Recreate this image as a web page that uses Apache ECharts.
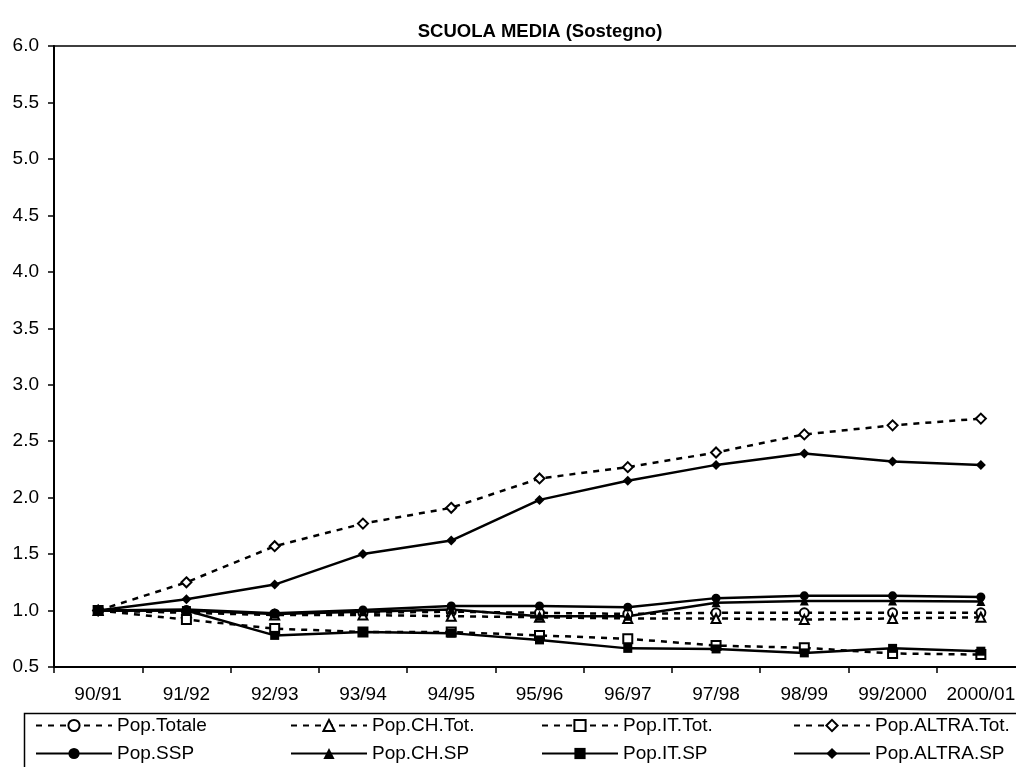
<!DOCTYPE html>
<html>
<head>
<meta charset="utf-8">
<script src="https://cdn.jsdelivr.net/npm/echarts@6/dist/echarts.min.js"></script>
<style>
  html, body { margin: 0; padding: 0; background: #fff; }
  #chart { width: 1016px; height: 767px; }
</style>
</head>
<body>
<div id="chart"></div>
<script>
// anni scolastici
var years = ["90/91", "91/92", "92/93", "93/94", "94/95", "95/96", "96/97", "97/98", "98/99", "99/2000", "2000/01"];

// popolazione totale (tratteggiate)
var popTotale = [1.0, 0.99, 0.97, 0.98, 0.99, 0.98, 0.97, 0.98, 0.98, 0.98, 0.98];
var popCHTot = [1.0, 0.98, 0.96, 0.96, 0.95, 0.94, 0.93, 0.93, 0.92, 0.93, 0.94];
var popITTot = [1.0, 0.92, 0.84, 0.81, 0.81, 0.78, 0.75, 0.69, 0.67, 0.62, 0.61];
var popALTRATot = [1.0, 1.25, 1.57, 1.77, 1.91, 2.17, 2.27, 2.40, 2.56, 2.64, 2.70];

// popolazione SP (continue)
var popSSP = [1.0, 1.01, 0.975, 1.005, 1.04, 1.04, 1.03, 1.11, 1.13, 1.13, 1.12];
var popCHSP = [1.0, 1.0, 0.97, 0.99, 1.01, 0.95, 0.95, 1.07, 1.085, 1.085, 1.08];
var popITSP = [1.0, 1.0, 0.78, 0.81, 0.80, 0.74, 0.665, 0.66, 0.625, 0.665, 0.64];
var popALTRASP = [1.0, 1.10, 1.23, 1.50, 1.62, 1.98, 2.15, 2.29, 2.39, 2.32, 2.29];

var yTicks = { min: 0.5, max: 6.0, step: 0.5 };

function serie(name, data, dashed, symbol, filled) {
  return {
    name: name,
    type: "line",
    data: data,
    symbol: symbol,
    symbolSize: symbol === "diamond" ? 10 : 9,
    showSymbol: true,
    animation: false,
    lineStyle: { color: "#000", width: 2.5, type: dashed ? [6, 6] : "solid" },
    itemStyle: {
      color: filled ? "#000" : "#fff",
      borderColor: "#000",
      borderWidth: filled ? 0 : 2
    }
  };
}

function colLegend(left, names) {
  return {
    data: names,
    orient: "vertical",
    left: left,
    top: 716,
    height: 60,
    padding: 0,
    itemWidth: 76,
    itemHeight: 14,
    itemGap: 9,
    selectedMode: false,
    textStyle: { fontSize: 19, color: "#000", fontFamily: "Liberation Sans" }
  };
}

var chart = echarts.init(document.getElementById("chart"));
chart.setOption({
  backgroundColor: "#fff",
  textStyle: { fontFamily: "Liberation Sans" },
  title: {
    text: "SCUOLA MEDIA (Sostegno)",
    left: 535,
    textAlign: "center",
    top: 17,
    textStyle: { fontSize: 18.5, fontWeight: "bold", color: "#000", fontFamily: "Liberation Sans" }
  },
  grid: {
    left: 54,
    top: 46,
    width: 971,
    height: 621,
    show: true,
    borderColor: "#000",
    borderWidth: 1.5,
    containLabel: false,
    outerBoundsMode: "none"
  },
  xAxis: {
    type: "category",
    data: years,
    boundaryGap: true,
    axisLine: { lineStyle: { color: "#000", width: 2 } },
    axisTick: { show: true, inside: false, length: 6, alignWithLabel: false, lineStyle: { color: "#000", width: 1.5 } },
    axisLabel: { color: "#000", fontSize: 19, margin: 18, interval: 0 },
    splitLine: { show: false }
  },
  yAxis: {
    type: "value",
    min: yTicks.min,
    max: yTicks.max,
    interval: yTicks.step,
    axisLine: { show: true, lineStyle: { color: "#000", width: 2 } },
    axisTick: { show: true, inside: false, length: 6, lineStyle: { color: "#000", width: 1.5 } },
    axisLabel: { color: "#000", fontSize: 19, margin: 15, formatter: function (v) { return v.toFixed(1); } },
    splitLine: { show: false }
  },
  legend: [
    colLegend(35, ["Pop.Totale", "Pop.SSP"]),
    colLegend(290, ["Pop.CH.Tot.", "Pop.CH.SP"]),
    colLegend(541, ["Pop.IT.Tot.", "Pop.IT.SP"]),
    colLegend(793, ["Pop.ALTRA.Tot.", "Pop.ALTRA.SP"])
  ],
  graphic: [{
    type: "rect",
    left: 22,
    top: 711,
    shape: { width: 995, height: 70 },
    style: { fill: "none", stroke: "#000", lineWidth: 1.5 },
    silent: true
  }],
  series: [
    serie("Pop.Totale", popTotale, true, "circle", false),
    serie("Pop.CH.Tot.", popCHTot, true, "triangle", false),
    serie("Pop.IT.Tot.", popITTot, true, "rect", false),
    serie("Pop.ALTRA.Tot.", popALTRATot, true, "diamond", false),
    serie("Pop.SSP", popSSP, false, "circle", true),
    serie("Pop.CH.SP", popCHSP, false, "triangle", true),
    serie("Pop.IT.SP", popITSP, false, "rect", true),
    serie("Pop.ALTRA.SP", popALTRASP, false, "diamond", true)
  ]
});
</script>
</body>
</html>
